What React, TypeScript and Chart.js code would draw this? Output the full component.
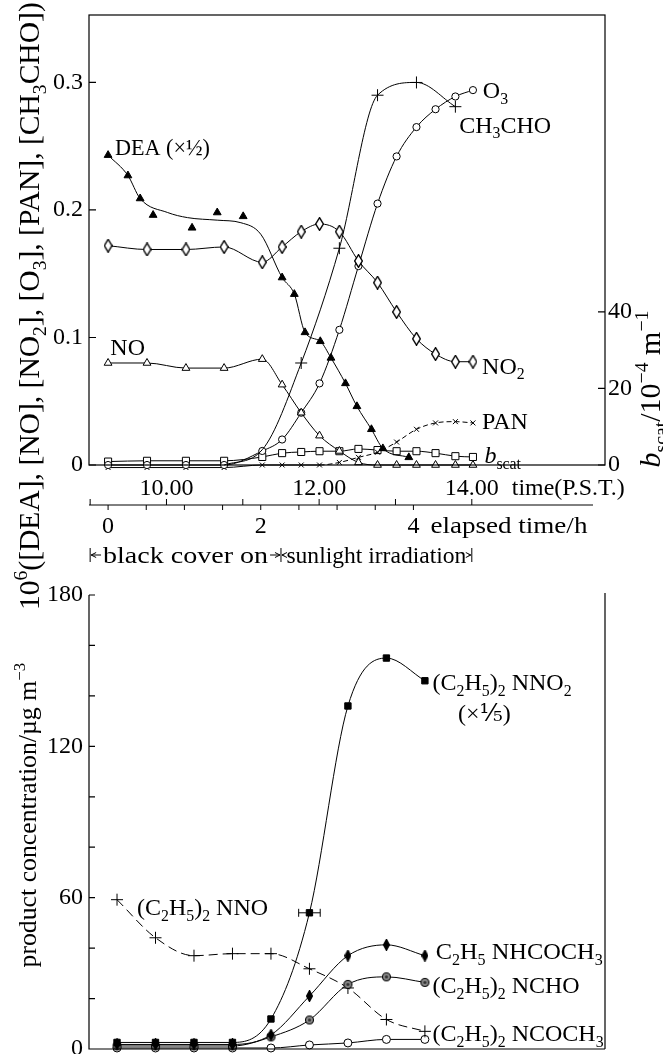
import React, { useEffect, useRef } from "react";
import { Chart, registerables } from "chart.js";
Chart.register(...registerables);

const FONT = '"Liberation Serif", "DejaVu Serif", serif';

// ---------------- top chart (x = elapsed time / h) ----------------
const tTop = [0, 0.51, 1.02, 1.52, 2.02, 2.28, 2.53, 2.77, 3.03, 3.28, 3.53, 3.78, 4.04, 4.29, 4.55, 4.78];
const no2Top = [0.172, 0.169, 0.169, 0.171, 0.159, 0.171, 0.183, 0.189, 0.183, 0.16, 0.143, 0.12, 0.099, 0.087, 0.081, 0.081];
const noTop = [0.08, 0.08, 0.076, 0.076, 0.083, 0.063, 0.041, 0.023, 0.011, 0.002, 0, 0, 0, 0, 0, 0];
const o3Top = [0, 0, 0, 0, 0.011, 0.02, 0.041, 0.064, 0.106, 0.156, 0.205, 0.242, 0.265, 0.279, 0.289, 0.294];
const ch3choTop = [null, null, null, 0, 0.012, null, 0.08, null, 0.17, null, 0.29, null, 0.3, null, 0.281, null];
const panTop = [-0.002, -0.002, -0.002, -0.002, 0, 0, 0, 0, 0.002, 0.006, 0.01, 0.018, 0.028, 0.033, 0.034, 0.033];
const bscatTop = [0.9, 1.1, 1.1, 1.1, 2.1, 3.1, 3.4, 3.6, 3.6, 4.2, 3.9, 3.6, 3.6, 3.1, 2.3, 2.1];

const deaT = [0, 0.26, 0.42, 0.59, 1.1, 1.43, 1.77, 2.28, 2.44, 2.58, 2.78, 2.92, 3.11, 3.26, 3.45, 3.6, 3.94];
const deaV = [0.243, 0.227, 0.209, 0.196, 0.186, 0.198, 0.195, 0.147, 0.134, 0.104, 0.097, 0.084, 0.064, 0.046, 0.028, 0.013, 0.006];
const deaFitT = [0, 0.26, 0.42, 0.78, 1.04, 1.43, 1.74, 2.0, 2.28, 2.44, 2.58, 2.78, 2.92, 3.11, 3.26, 3.45, 3.6, 3.94];
const deaFitV = [0.243, 0.227, 0.209, 0.198, 0.194, 0.192, 0.19, 0.181, 0.147, 0.134, 0.104, 0.097, 0.084, 0.064, 0.046, 0.028, 0.013, 0.006];

const leftTicks = [0, 0.1, 0.2, 0.3];
const rightTicks = [0, 20, 40];

const TIME_OFFSET = 9.235; // clock hour at elapsed time 0
const clockTicks = [9, 10, 11, 12, 13, 14];
const clockLabelHours = [10, 12, 14];
const clockLabels = ["10.00", "12.00", "14.00"];
const elapsedTicks = [0, 0.5, 1, 1.5, 2, 2.5, 3, 3.5, 4];
const elapsedLabels = [0, 2, 4];
const phaseHours = [9.0, 11.5, 14.0];
const phaseNames = ["black cover on", "sunlight irradiation"];

// ---------------- bottom chart ----------------
const tBot = [0, 0.5, 1, 1.5, 2, 2.5, 3, 3.5, 4];
const nnoBot = [59.2, 44.1, 37.0, 37.8, 37.8, 31.8, 24.2, 11.7, 7.0];
const nno2Bot = [2.6, 2.6, 2.6, 2.6, 11.9, 54, 136, 155, 146];
const nno2Err = [0, 0, 0, 0, 0, 0.14, 0, 0, 0];
const nhcoch3Bot = [1.8, 1.8, 1.8, 1.8, 5.6, 21, 37, 41.3, 37];
const nchoBot = [1.2, 1.2, 1.2, 1.2, 4.8, 11.5, 25.6, 28.6, 26.4];
const ncoch3Bot = [0.4, 0.4, 0.4, 0.4, 0.4, 1.6, 2.4, 3.8, 3.8];
const botTicks = [0, 60, 120, 180];
const botMinor = [20, 40, 80, 100, 140, 160];

// annotations (text, anchored in data coordinates)
const topNotes = [
  { t: "DEA (×½)", x: 0.09, y: 0.249, fit: 95 },
  { t: "NO", x: 0.03, y: 0.093 },
  { t: "O_{3}", x: 4.91, y: 0.294 },
  { t: "CH_{3}CHO", x: 4.6, y: 0.267 },
  { t: "NO_{2}", x: 4.9, y: 0.078 },
  { t: "PAN", x: 4.9, y: 0.035 },
  { t: "~{b}_{scat}", x: 4.93, y: 0.008 },
];
const botNotes = [
  { t: "(C_{2}H_{5})_{2} NNO", x: 0.26, y: 56.3 },
  { t: "(C_{2}H_{5})_{2} NNO_{2}", x: 4.1, y: 145.5 },
  { t: "(×⅕)", x: 4.43, y: 133.2 },
  { t: "C_{2}H_{5} NHCOCH_{3}", x: 4.14, y: 38.9, fit: 167 },
  { t: "(C_{2}H_{5})_{2} NCHO", x: 4.1, y: 25.4 },
  { t: "(C_{2}H_{5})_{2} NCOCH_{3}", x: 4.1, y: 6.3 },
];

// ---------------- rich text helpers ----------------
type Seg = { t: string; k: number };
function parseRich(s: string): Seg[] {
  const out: Seg[] = [];
  let buf = "";
  let i = 0;
  while (i < s.length) {
    const c = s[i];
    if ((c === "_" || c === "^" || c === "~") && s[i + 1] === "{") {
      if (buf) { out.push({ t: buf, k: 0 }); buf = ""; }
      const end = s.indexOf("}", i + 2);
      out.push({ t: s.slice(i + 2, end), k: c === "_" ? 1 : c === "^" ? 2 : 3 });
      i = end + 1;
    } else { buf += c; i++; }
  }
  if (buf) out.push({ t: buf, k: 0 });
  return out;
}
function segFont(k: number, size: number) {
  if (k === 1 || k === 2) return `${size * 0.66}px ${FONT}`;
  if (k === 3) return `italic ${size}px ${FONT}`;
  return `${size}px ${FONT}`;
}
function richWidth(ctx: any, segs: Seg[], size: number) {
  let w = 0;
  for (const sg of segs) { ctx.font = segFont(sg.k, size); w += ctx.measureText(sg.t).width; }
  return w;
}
// fit > 0: scale font size to reach that width; stretch > 0: stretch horizontally to that width
function drawRich(ctx: any, s: string, x: number, y: number, size: number, align = "left", fit = 0, stretch = 0) {
  const segs = parseRich(s);
  let w = richWidth(ctx, segs, size);
  if (fit) { size = size * fit / w; w = fit; }
  const sx = stretch ? stretch / w : 1;
  const W = w * sx;
  const left = align === "left" ? x : align === "center" ? x - W / 2 : x - W;
  ctx.save();
  ctx.translate(left, y);
  ctx.scale(sx, 1);
  ctx.textAlign = "left";
  ctx.textBaseline = "alphabetic";
  ctx.fillStyle = "#000";
  const base = size * 0.34;
  let cx = 0;
  for (const sg of segs) {
    ctx.font = segFont(sg.k, size);
    const dy = sg.k === 1 ? size * 0.24 : sg.k === 2 ? -size * 0.4 : 0;
    ctx.fillText(sg.t, cx, base + dy);
    cx += ctx.measureText(sg.t).width;
  }
  ctx.restore();
}
function drawRotated(ctx: any, s: string, cx: number, cy: number, size: number, fit: number) {
  ctx.save();
  ctx.translate(cx, cy);
  ctx.rotate(-Math.PI / 2);
  drawRich(ctx, s, 0, 0, size, "center", fit);
  ctx.restore();
}
function arrowLine(ctx: any, x1: number, y: number, x2: number) {
  const d = x2 > x1 ? 1 : -1;
  ctx.beginPath();
  ctx.moveTo(x1, y); ctx.lineTo(x2, y);
  ctx.moveTo(x2 - d * 5, y - 2.5); ctx.lineTo(x2, y); ctx.lineTo(x2 - d * 5, y + 2.5);
  ctx.stroke();
}

function pts(xs: number[], ys: any[]) {
  return xs.map((x, i) => ({ x, y: ys[i] })).filter((p) => p.y !== null && p.y !== undefined);
}

function makeDiamond(w: number, h: number, fill: string) {
  const c = document.createElement("canvas");
  c.width = w; c.height = h;
  const g = c.getContext("2d")!;
  g.beginPath();
  g.moveTo(w / 2, 0.7); g.lineTo(w - 0.7, h / 2);
  g.lineTo(w / 2, h - 0.7); g.lineTo(0.7, h / 2);
  g.closePath();
  g.fillStyle = fill; g.fill();
  g.strokeStyle = "#000"; g.lineWidth = 1.4; g.stroke();
  return c;
}
function makeHatched(r: number) {
  const c = document.createElement("canvas");
  c.width = 2 * r + 3; c.height = 2 * r + 3;
  const g = c.getContext("2d")!;
  g.beginPath(); g.arc(c.width / 2, c.height / 2, r, 0, Math.PI * 2);
  g.fillStyle = "#888"; g.fill();
  g.strokeStyle = "#000"; g.lineWidth = 1.1; g.stroke();
  g.beginPath(); g.arc(c.width / 2, c.height / 2, r * 0.4, 0, Math.PI * 2);
  g.fillStyle = "#333"; g.fill();
  return c;
}

const baseDs = {
  borderColor: "#000",
  borderWidth: 1,
  pointBorderColor: "#000",
  pointBorderWidth: 1,
  pointBackgroundColor: "#fff",
  cubicInterpolationMode: "monotone",
  tension: 0.4,
  fill: false,
  clip: false,
  spanGaps: true,
};

const noPad = (s: any) => { s.paddingTop = 0; s.paddingBottom = 0; s.paddingLeft = 0; s.paddingRight = 0; };

function topConfig(): any {
  const openDiamond = makeDiamond(9, 14, "#fff");
  const datasets = [
    { ...baseDs, label: "DEA", data: pts(deaT, deaV), showLine: false, pointStyle: "triangle", pointRadius: 4.5, pointBackgroundColor: "#000" },
    { ...baseDs, label: "DEA fit", data: pts(deaFitT, deaFitV), pointRadius: 0 },
    { ...baseDs, label: "NO2", data: pts(tTop, no2Top), pointStyle: openDiamond, pointRadius: 4 },
    { ...baseDs, label: "NO", data: pts(tTop, noTop), pointStyle: "triangle", pointRadius: 4.5 },
    { ...baseDs, label: "CH3CHO", data: pts(tTop, ch3choTop), pointStyle: "cross", pointRadius: (c: any) => (c.raw && c.raw.y > 0.02 ? 6 : 0) },
    { ...baseDs, label: "O3", data: pts(tTop, o3Top), pointStyle: "circle", pointRadius: 3.6 },
    {
      ...baseDs, label: "PAN", data: pts(tTop, panTop), pointStyle: "crossRot", pointRadius: 3.5,
      segment: { borderDash: (c: any) => (c.p0DataIndex >= 7 ? [5, 3] : []) },
    },
    { ...baseDs, label: "bscat", data: pts(tTop, bscatTop), yAxisID: "y2", pointStyle: "rect", pointRadius: 5 },
  ];
  const tickFont = { family: FONT, size: 24 };
  return {
    type: "line",
    data: { datasets },
    options: {
      animation: false,
      responsive: false,
      layout: { padding: { top: 15, left: 0, right: 0, bottom: 0 } },
      plugins: { legend: { display: false }, tooltip: { enabled: false } },
      scales: {
        x: {
          type: "linear", min: -0.25, max: 6.51, display: true,
          ticks: { display: false }, grid: { display: false, drawTicks: false }, border: { display: false },
          afterFit: (s: any) => { s.height = 160; noPad(s); },
        },
        y: {
          type: "linear", position: "left", min: 0, max: 0.3529,
          grid: { display: false, drawTicks: false }, border: { display: false },
          ticks: { color: "#000", font: tickFont, padding: 6, callback: (v: any) => String(v) },
          afterBuildTicks: (s: any) => { s.ticks = leftTicks.map((v) => ({ value: v })); },
          afterFit: (s: any) => { s.width = 89; noPad(s); },
        },
        y2: {
          type: "linear", position: "right", min: 0, max: 117.5,
          grid: { display: false, drawTicks: false }, border: { display: false },
          ticks: { color: "#000", font: tickFont, padding: 3, callback: (v: any) => String(v) },
          afterBuildTicks: (s: any) => { s.ticks = rightTicks.map((v) => ({ value: v })); },
          afterFit: (s: any) => { s.width = 58; noPad(s); },
        },
      },
    },
    plugins: [
      {
        id: "topDecor",
        afterDraw(chart: any) {
          const { ctx, chartArea: a } = chart;
          const xs = chart.scales.x, ys = chart.scales.y, y2 = chart.scales.y2;
          const X = (v: number) => xs.getPixelForValue(v);
          ctx.save();
          ctx.strokeStyle = "#000";
          ctx.lineWidth = 1.2;
          ctx.strokeRect(a.left, a.top, a.right - a.left, a.bottom - a.top);
          ctx.beginPath();
          leftTicks.forEach((v) => { const p = ys.getPixelForValue(v); ctx.moveTo(a.left, p); ctx.lineTo(a.left + 7, p); });
          rightTicks.forEach((v) => { const p = y2.getPixelForValue(v); ctx.moveTo(a.right - 7, p); ctx.lineTo(a.right, p); });
          ctx.stroke();

          topNotes.forEach((n: any) => drawRich(ctx, n.t, X(n.x), ys.getPixelForValue(n.y), 24, "left", n.fit || 0));

          // clock time labels
          const yClock = a.bottom + 22;
          clockLabelHours.forEach((h, i) => drawRich(ctx, clockLabels[i], X(h - TIME_OFFSET), yClock, 24, "center"));
          drawRich(ctx, "time(P.S.T.)", X(14 - TIME_OFFSET) + 40, yClock, 24, "left", 113);

          // elapsed-time axis
          const yAx = a.bottom + 40;
          ctx.lineWidth = 1;
          ctx.beginPath();
          ctx.moveTo(a.left, yAx); ctx.lineTo(a.right - 12, yAx);
          clockTicks.forEach((h) => { const p = X(h - TIME_OFFSET); ctx.moveTo(p, yAx); ctx.lineTo(p, yAx - 6); });
          elapsedTicks.forEach((e) => { const p = X(e); ctx.moveTo(p, yAx); ctx.lineTo(p, yAx + 5); });
          ctx.stroke();
          elapsedLabels.forEach((e) => drawRich(ctx, String(e), X(e), a.bottom + 60, 24, "center"));
          drawRich(ctx, "elapsed time/h", X(4) + 17, a.bottom + 60, 24, "left", 0, 157);

          // phases
          const yP = a.bottom + 90;
          const bx = phaseHours.map((h) => X(h - TIME_OFFSET));
          ctx.beginPath();
          bx.forEach((p) => { ctx.moveTo(p, yP - 7); ctx.lineTo(p, yP + 7); });
          ctx.stroke();
          const widths = [165, 180];
          phaseNames.forEach((nm, i) => {
            const cx = (bx[i] + bx[i + 1]) / 2;
            drawRich(ctx, nm, cx, yP, 24, "center", 0, widths[i]);
            const l = cx - widths[i] / 2 - 2, r = cx + widths[i] / 2 + 2;
            if (l - bx[i] > 3) arrowLine(ctx, l, yP, bx[i] + 1);
            if (bx[i + 1] - r > 3) arrowLine(ctx, r, yP, bx[i + 1] - 1);
          });

          // axis titles
          drawRotated(ctx, "10^{6}([DEA], [NO], [NO_{2}], [O_{3}], [PAN], [CH_{3}CHO])", 28.5, 306, 24, 608);
          drawRotated(ctx, "~{b}_{scat}/10^{−4} m^{−1}", 650, 389, 24, 157);
          ctx.restore();
        },
      },
    ],
  };
}

function botConfig(): any {
  const filledDiamond = makeDiamond(7, 12, "#000");
  const hatched = makeHatched(4);
  const datasets = [
    { ...baseDs, label: "NNO2", data: pts(tBot, nno2Bot), pointStyle: "rect", pointRadius: 4.5, pointBackgroundColor: "#000" },
    { ...baseDs, label: "NHCOCH3", data: pts(tBot, nhcoch3Bot), pointStyle: filledDiamond, pointRadius: 4 },
    { ...baseDs, label: "NCHO", data: pts(tBot, nchoBot), pointStyle: hatched, pointRadius: 4 },
    { ...baseDs, label: "NNO", data: pts(tBot, nnoBot), pointStyle: "cross", pointRadius: 6, borderDash: [9, 5] },
    { ...baseDs, label: "NCOCH3", data: pts(tBot, ncoch3Bot), pointStyle: "circle", pointRadius: 4 },
  ];
  const tickFont = { family: FONT, size: 24 };
  return {
    type: "line",
    data: { datasets },
    options: {
      animation: false,
      responsive: false,
      layout: { padding: { top: 20, left: 0, right: 58, bottom: 0 } },
      plugins: { legend: { display: false }, tooltip: { enabled: false } },
      scales: {
        x: {
          type: "linear", min: -0.364, max: 6.34, display: true,
          ticks: { display: false }, grid: { display: false, drawTicks: false }, border: { display: false },
          afterFit: (s: any) => { s.height = 10; noPad(s); },
        },
        y: {
          type: "linear", position: "left", min: 0, max: 180,
          grid: { display: false, drawTicks: false }, border: { display: false },
          ticks: { color: "#000", font: tickFont, padding: 6, callback: (v: any) => String(v) },
          afterBuildTicks: (s: any) => { s.ticks = botTicks.map((v) => ({ value: v })); },
          afterFit: (s: any) => { s.width = 89; noPad(s); },
        },
      },
    },
    plugins: [
      {
        id: "botDecor",
        afterDraw(chart: any) {
          const { ctx, chartArea: a } = chart;
          const xs = chart.scales.x, ys = chart.scales.y;
          ctx.save();
          ctx.strokeStyle = "#000";
          ctx.lineWidth = 1.2;
          ctx.beginPath();
          ctx.moveTo(a.left, a.top); ctx.lineTo(a.left, a.bottom); ctx.lineTo(a.right, a.bottom);
          ctx.moveTo(a.right, a.top - 2); ctx.lineTo(a.right, a.bottom);
          [...botTicks, ...botMinor].forEach((v) => { const p = ys.getPixelForValue(v); ctx.moveTo(a.left, p); ctx.lineTo(a.left + 6, p); });
          ctx.stroke();

          // horizontal error bars
          ctx.lineWidth = 1;
          ctx.beginPath();
          tBot.forEach((t, i) => {
            const e = nno2Err[i];
            if (!e) return;
            const py = ys.getPixelForValue(nno2Bot[i]);
            const x1 = xs.getPixelForValue(t - e), x2 = xs.getPixelForValue(t + e);
            ctx.moveTo(x1, py); ctx.lineTo(x2, py);
            ctx.moveTo(x1, py - 4); ctx.lineTo(x1, py + 4);
            ctx.moveTo(x2, py - 4); ctx.lineTo(x2, py + 4);
          });
          ctx.stroke();

          botNotes.forEach((n: any) => drawRich(ctx, n.t, xs.getPixelForValue(n.x), ys.getPixelForValue(n.y), 24, "left", 0, n.fit || 0));
          drawRotated(ctx, "product concentration/µg m^{−3}", 27, 240, 24, 305);
          ctx.restore();
        },
      },
    ],
  };
}

export default function App() {
  const topRef = useRef<HTMLCanvasElement>(null);
  const botRef = useRef<HTMLCanvasElement>(null);
  useEffect(() => {
    const c1 = new Chart(topRef.current as HTMLCanvasElement, topConfig());
    const c2 = new Chart(botRef.current as HTMLCanvasElement, botConfig());
    return () => { c1.destroy(); c2.destroy(); };
  }, []);
  return (
    <div style={{ position: "absolute", left: 0, top: 0, width: 663, height: 1054, background: "#fff", overflow: "hidden" }}>
      <canvas ref={topRef} width={663} height={625} style={{ position: "absolute", left: 0, top: 0, width: 663, height: 625 }} />
      <canvas ref={botRef} width={663} height={484} style={{ position: "absolute", left: 0, top: 575, width: 663, height: 484 }} />
    </div>
  );
}
